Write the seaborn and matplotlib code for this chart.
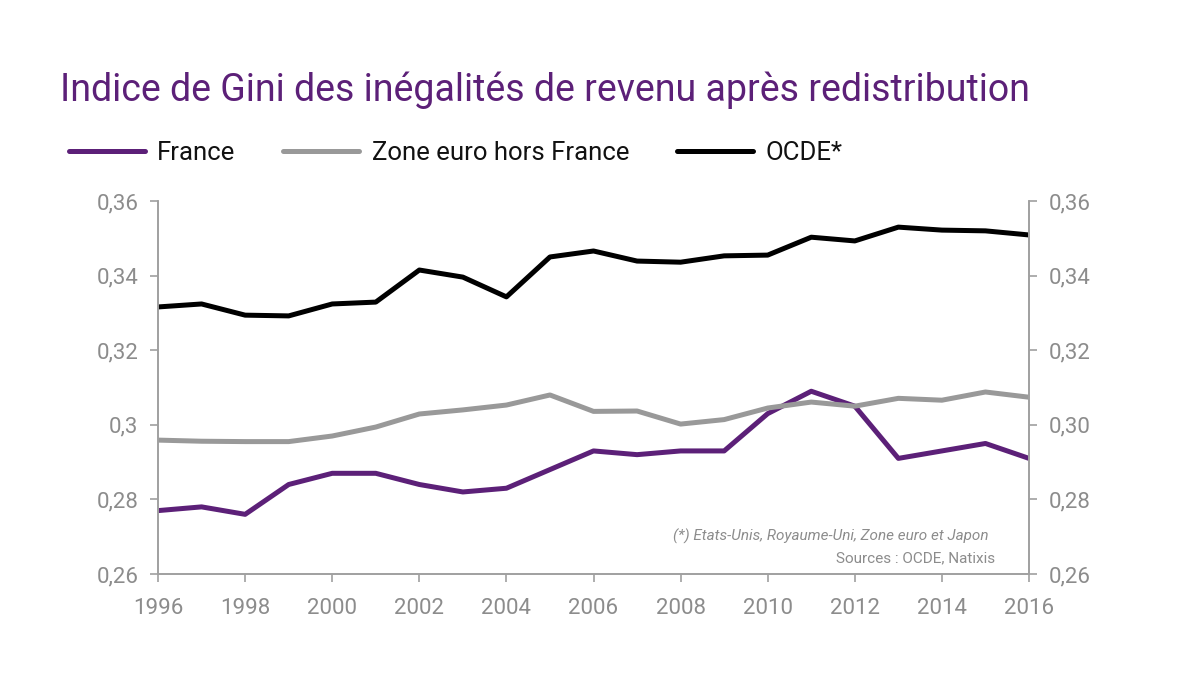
import pandas as pd
import seaborn as sns
from matplotlib import pyplot as plt
from matplotlib.ticker import FuncFormatter, MultipleLocator

# Données
years = list(range(1996, 2017))
france = [0.277, 0.278, 0.276, 0.284, 0.287, 0.287, 0.284, 0.282, 0.283, 0.288, 0.293,
          0.292, 0.293, 0.293, 0.303, 0.309, 0.305, 0.291, 0.293, 0.295, 0.291]
zone_euro = [0.2959, 0.2956, 0.2955, 0.2955, 0.2970, 0.2994, 0.3029, 0.3040, 0.3053, 0.3080, 0.3036,
             0.3037, 0.3002, 0.3014, 0.3045, 0.3061, 0.3050, 0.3071, 0.3066, 0.3088, 0.3074]
ocde = [0.3316, 0.3324, 0.3294, 0.3292, 0.3324, 0.3329, 0.3415, 0.3396, 0.3343, 0.3450, 0.3466,
        0.3439, 0.3436, 0.3453, 0.3455, 0.3503, 0.3493, 0.3530, 0.3522, 0.3520, 0.3509]
series_names = ["France", "Zone euro hors France", "OCDE*"]
colors = ["#5C2078", "#999999", "#000000"]

df = pd.DataFrame({"annee": years * 3,
                   "gini": france + zone_euro + ocde,
                   "serie": [s for s in series_names for _ in years]})

sns.set_style("white")
plt.rcParams['font.family'] = ['Roboto', 'DejaVu Sans']

grey = "#8c8c8c"
fig = plt.figure(figsize=(12, 6.75), dpi=100)
ax = fig.add_axes([0.1317, 0.1496, 0.7258, 0.5526])

sns.lineplot(data=df, x="annee", y="gini", hue="serie", palette=colors,
             hue_order=series_names, linewidth=3.6, ax=ax, legend=False)

ax.set_xlim(1996, 2016)
ax.set_ylim(0.26, 0.36)
ax.xaxis.set_major_locator(MultipleLocator(2))
ax.yaxis.set_major_locator(MultipleLocator(0.02))
ax.yaxis.set_major_formatter(FuncFormatter(lambda v, p: f"{v:.2f}".rstrip("0").replace(".", ",")))
ax.set_xlabel("")
ax.set_ylabel("")

ax2 = ax.twinx()
ax2.set_ylim(0.26, 0.36)
ax2.yaxis.set_major_locator(MultipleLocator(0.02))
ax2.yaxis.set_major_formatter(FuncFormatter(lambda v, p: f"{v:.2f}".replace(".", ",")))

for a in (ax, ax2):
    a.spines['top'].set_visible(False)
    for s in ('left', 'right', 'bottom'):
        a.spines[s].set_color("#a0a0a0")
        a.spines[s].set_linewidth(1.2)
    a.tick_params(axis='both', direction='out', length=6, width=1.2, color="#a0a0a0",
                  labelcolor=grey, labelsize=16, pad=8)
ax.tick_params(axis='x', pad=11)
ax.tick_params(left=True, bottom=True)
ax2.tick_params(right=True)

# Titre
fig.text(0.05, 0.866, "Indice de Gini des inégalités de revenu après redistribution",
         color="#5C2078", fontsize=27, ha="left", va="center")

# Légende
handles = [plt.Line2D([], [], color=c, linewidth=3.6) for c in colors]
fig.legend(handles, series_names, loc="center left", bbox_to_anchor=(0.038, 0.774),
           ncol=3, frameon=False, fontsize=18.5, handlelength=2.95, columnspacing=1.85,
           handletextpad=0.5, labelcolor="#111111")

# Notes
ax.text(0.953, 0.102, "(*) Etats-Unis, Royaume-Uni, Zone euro et Japon", transform=ax.transAxes,
        ha="right", va="center", fontsize=11, style="italic", color=grey)
ax.text(0.961, 0.043, "Sources : OCDE, Natixis", transform=ax.transAxes,
        ha="right", va="center", fontsize=11, color=grey)

plt.savefig("out.png", dpi=100)
